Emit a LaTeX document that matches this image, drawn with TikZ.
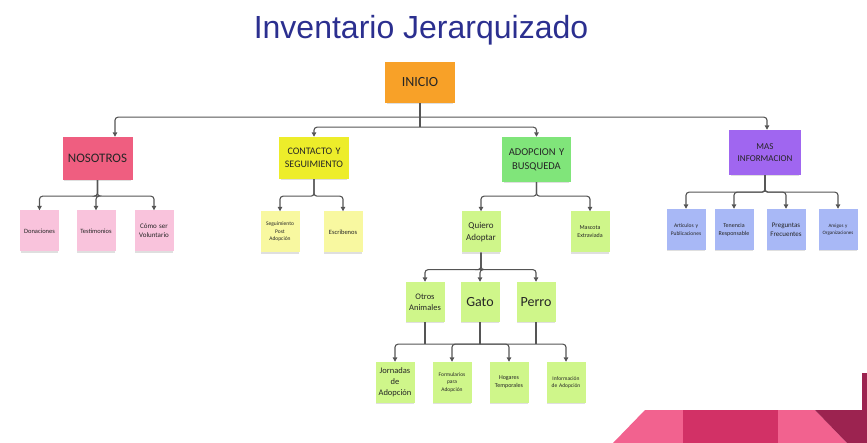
\documentclass[tikz,border=0pt]{standalone}
\usepackage{fontspec}
\setmainfont{Carlito}
\newfontfamily\titlefont{Liberation Sans}
\usetikzlibrary{shadows,arrows.meta}
\definecolor{ttl}{HTML}{2B2F8F}
\definecolor{corange}{HTML}{F8A128}
\definecolor{cred}{HTML}{EF5E80}
\definecolor{cyel}{HTML}{EDED2A}
\definecolor{cgreen}{HTML}{80E57A}
\definecolor{cpurp}{HTML}{A066F0}
\definecolor{lpink}{HTML}{F9C3DC}
\definecolor{lyel}{HTML}{F8F8A0}
\definecolor{lgreen}{HTML}{CFF68A}
\definecolor{lblue}{HTML}{A8B8F6}
\definecolor{lnc}{HTML}{555555}
\definecolor{dpink}{HTML}{F2628F}
\definecolor{dcrim}{HTML}{D23166}
\definecolor{dmar}{HTML}{9C2350}
\newcommand{\fs}[2]{\fontsize{#1}{#2}\selectfont}
\tikzset{
  note/.style={inner sep=1pt, align=center, text=black!85,
    drop shadow={shadow xshift=0pt, shadow yshift=-2.5pt, opacity=0.25, shadow scale=0.95}},
  bigbox/.style={note, minimum width=70pt, minimum height=43pt, text width=66pt},
  smallbox/.style={note, minimum width=39pt, minimum height=41pt, text width=37pt},
  conn/.style={draw=lnc, line width=1.1pt, rounded corners=3pt},
  arr/.style={conn, -{Triangle[length=4.5pt,width=4.5pt]}}
}
\begin{document}
\begin{tikzpicture}[x=1pt,y=-1pt]
\useasboundingbox (0,0) rectangle (867,443);
% title
\node[font=\titlefont\fs{32}{36}, text=ttl] (title) at (421,30) {Inventario Jerarquizado};
% decoration
\fill[dpink] (613,443) -- (645,410) -- (683,410) -- (683,443) -- cycle;
\fill[dcrim] (683,410) rectangle (778,443);
\fill[dpink] (778,410) -- (815,410) -- (847,443) -- (778,443) -- cycle;
\fill[dmar] (815,410) -- (862,410) -- (862,373) -- (867,373) -- (867,443) -- (847,443) -- cycle;
% level 0
\node[bigbox, fill=corange, minimum width=70pt, minimum height=41pt, font=\fs{14}{16}] (ini) at (420,82.5) {INICIO};
% level 1
\node[bigbox, fill=cred, font=\fs{13}{15}] (nos) at (97.5,158.5) {NOSOTROS};
\node[bigbox, fill=cyel, minimum height=42pt, font=\fs{10}{13}] (con) at (314,158) {CONTACTO Y\\SEGUIMIENTO};
\node[bigbox, fill=cgreen, minimum width=69pt, minimum height=45pt, font=\fs{10.5}{14}] (ado) at (536.5,159.5) {ADOPCION Y\\BUSQUEDA};
\node[bigbox, fill=cpurp, minimum width=72pt, minimum height=45pt, font=\fs{9}{12}] (mas) at (765,152.5) {MAS\\INFORMACION};
% level 2 nosotros
\node[smallbox, fill=lpink, font=\fs{6.5}{8}] (don) at (39.5,231) {Donaciones};
\node[smallbox, fill=lpink, font=\fs{6.5}{8}] (tes) at (96,231) {Testimonios};
\node[smallbox, fill=lpink, font=\fs{7}{9}] (vol) at (154,231) {Cómo ser\\Voluntario};
% level 2 contacto
\node[smallbox, fill=lyel, font=\fs{5.5}{7.5}] (seg) at (280,232) {Seguimiento\\Post\\Adopción};
\node[smallbox, fill=lyel, font=\fs{6.5}{8}] (esc) at (343,232) {Escribenos};
% level 2 adopcion
\node[smallbox, fill=lgreen, font=\fs{9}{12}] (qui) at (481,232) {Quiero\\Adoptar};
\node[smallbox, fill=lgreen, font=\fs{6}{8}] (mex) at (590,232) {Mascota\\Extraviada};
% level 2 mas
\node[smallbox, fill=lblue, font=\fs{5.5}{7.5}] (art) at (686,229.5) {Artículos y\\Publicaciones};
\node[smallbox, fill=lblue, font=\fs{6}{8}] (ten) at (734,229.5) {Tenencia\\Responsable};
\node[smallbox, fill=lblue, font=\fs{7}{9}] (pre) at (786,229.5) {Preguntas\\Frecuentes};
\node[smallbox, fill=lblue, font=\fs{5}{6.5}] (ami) at (838,229.5) {Amigos y\\Organizaciones};
% level 3
\node[smallbox, fill=lgreen, minimum height=40pt, font=\fs{8.5}{11}] (otr) at (425,302) {Otros\\Animales};
\node[smallbox, fill=lgreen, minimum height=40pt, font=\fs{14}{16}] (gat) at (480,302) {Gato};
\node[smallbox, fill=lgreen, minimum height=40pt, font=\fs{14}{16}] (per) at (536,302) {Perro};
% level 4
\node[smallbox, fill=lgreen, font=\fs{8.5}{11}] (jor) at (395,382.5) {Jornadas\\de\\Adopción};
\node[smallbox, fill=lgreen, font=\fs{5.5}{7.5}] (for) at (452,382.5) {Formularios\\para\\Adopción};
\node[smallbox, fill=lgreen, font=\fs{6}{8}] (hog) at (509,382.5) {Hogares\\Temporales};
\node[smallbox, fill=lgreen, font=\fs{5.5}{7.5}] (inf) at (566,382.5) {Información\\de Adopción};
% connectors level 0 -> 1
\draw[conn] (ini.south) -- ++(0,24);
\draw[arr] ([yshift=-14pt]ini.south) -| ([xshift=17.5pt]nos.north);
\draw[arr] ([yshift=-14pt]ini.south) -| ([xshift=2pt]mas.north);
\draw[arr] ([yshift=-24pt]ini.south) -| (con.north);
\draw[arr] ([yshift=-24pt]ini.south) -| (ado.north);
% nosotros
\draw[arr] (nos.south) -- ++(0,16) -| (don.north);
\draw[arr] (nos.south) -- ++(0,16) -| (tes.north);
\draw[arr] (nos.south) -- ++(0,16) -| (vol.north);
% contacto
\draw[arr] (con.south) -- ++(0,17) -| (seg.north);
\draw[arr] (con.south) -- ++(0,17) -| (esc.north);
% adopcion
\draw[arr] (ado.south) -- ++(0,14) -| (qui.north);
\draw[arr] (ado.south) -- ++(0,14) -| (mex.north);
% mas
\draw[arr] (mas.south) -- ++(0,17) -| (art.north);
\draw[arr] (mas.south) -- ++(0,17) -| (ten.north);
\draw[arr] (mas.south) -- ++(0,17) -| (pre.north);
\draw[arr] (mas.south) -- ++(0,17) -| (ami.north);
% quiero -> level 3
\draw[arr] (qui.south) -- ++(0,17) -| (otr.north);
\draw[arr] (qui.south) -- ++(0,17) -| (gat.north);
\draw[arr] (qui.south) -- ++(0,17) -| (per.north);
% level 3 -> level 4
\draw[conn] (otr.south) -- ++(0,22);
\draw[conn] (per.south) -- ++(0,22);
\draw[conn] (gat.south) -- ++(0,22);
\draw[arr] ([yshift=-22pt]gat.south) -| (jor.north);
\draw[arr] ([yshift=-22pt]gat.south) -| (for.north);
\draw[arr] ([yshift=-22pt]gat.south) -| (hog.north);
\draw[arr] ([yshift=-22pt]gat.south) -| (inf.north);
\end{tikzpicture}
\end{document}
